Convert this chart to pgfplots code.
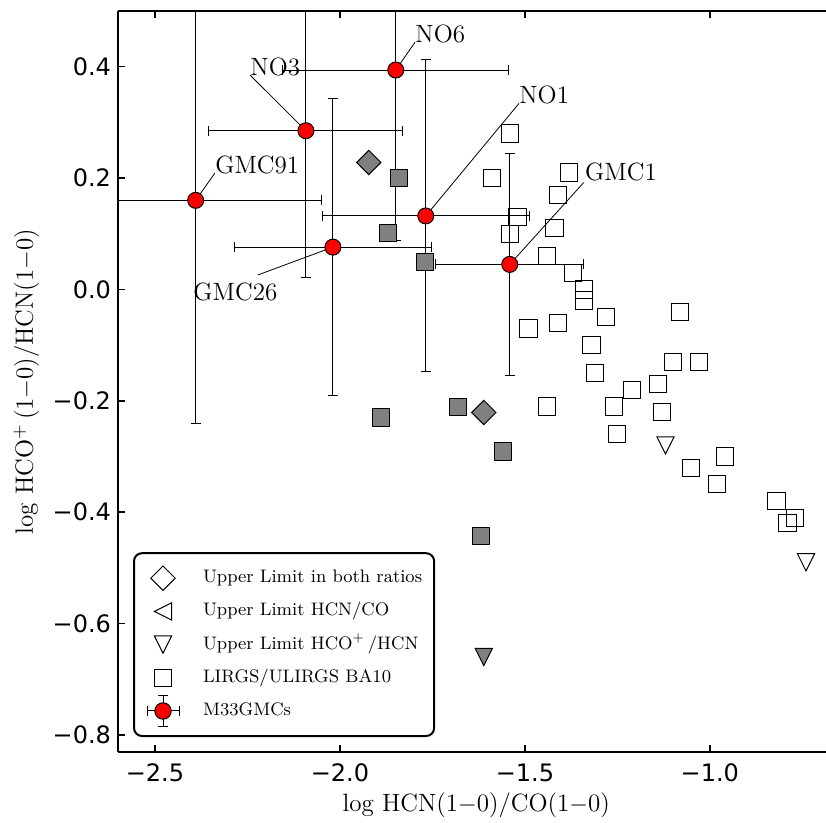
\documentclass[border=0pt]{standalone}
\usepackage{fontspec}
\usepackage{pgfplots}
\pgfplotsset{compat=1.18}
\newfontfamily\dejavu{DejaVu Sans}
\definecolor{mgray}{HTML}{808080}

% matplotlib style triangles (bbox centred)
\pgfdeclareplotmark{tridown}{%
  \pgfpathmoveto{\pgfqpoint{0pt}{-\pgfplotmarksize}}%
  \pgfpathlineto{\pgfqpoint{-\pgfplotmarksize}{\pgfplotmarksize}}%
  \pgfpathlineto{\pgfqpoint{\pgfplotmarksize}{\pgfplotmarksize}}%
  \pgfpathclose\pgfusepathqfillstroke}
\pgfdeclareplotmark{trileft}{%
  \pgfpathmoveto{\pgfqpoint{-\pgfplotmarksize}{0pt}}%
  \pgfpathlineto{\pgfqpoint{\pgfplotmarksize}{\pgfplotmarksize}}%
  \pgfpathlineto{\pgfqpoint{\pgfplotmarksize}{-\pgfplotmarksize}}%
  \pgfpathclose\pgfusepathqfillstroke}

\begin{document}
\begin{tikzpicture}
\begin{axis}[
    scale only axis,
    width=354pt, height=370.5pt,
    xmin=-2.6, xmax=-0.686,
    ymin=-0.8305, ymax=0.5,
    axis x line*=box, axis y line*=left,
    axis line style={-, line width=1pt},
    tick align=inside,
    major tick length=3.5pt,
    tick style={line width=0.8pt, black},
    xtick={-2.5,-2,-1.5,-1},
    xticklabels={−2.5,−2.0,−1.5,−1.0},
    ytick={-0.8,-0.6,-0.4,-0.2,0,0.2,0.4},
    yticklabels={−0.8,−0.6,−0.4,−0.2,0.0,0.2,0.4},
    tick label style={font=\dejavu\fontsize{12}{14}\selectfont},
    xticklabel style={yshift=-2.5pt},
    xlabel={$\log$ HCN(1$-$0)/CO(1$-$0)},
    ylabel={$\log$ HCO$^+$\,(1$-$0)/HCN(1$-$0)},
    every axis x label/.style={at={(rel axis cs:0.506,0)}, anchor=base, yshift=-30pt,
        font=\fontsize{12.5}{15}\selectfont},
    every axis y label/.style={at={(rel axis cs:0,0.5)}, xshift=-42.5pt, rotate=90, anchor=base,
        font=\fontsize{12.5}{15}\selectfont},
    legend cell align=left,
    legend style={at={(0.0212,0.0202)}, anchor=south west,
        draw=black, line width=1pt, rounded corners=4pt,
        font=\fontsize{9.05}{11}\selectfont,
        inner xsep=6pt, inner ysep=8.5pt, row sep=8.6pt,
        nodes={inner sep=0pt, text height=6pt, text depth=1.5pt},
        /tikz/every odd column/.append style={column sep=11.5pt}},
]

% legend entries
\addlegendimage{legend image code/.code={\path[draw=none, fill=none, use as bounding box] (0pt,-4pt) rectangle (17pt,4pt);
  \draw[sharp corners, line width=0.5pt, black, fill=white, mark=square*, mark size=4.3pt, mark options={rotate=45}] plot coordinates {(8.5pt,0pt)};}}
\addlegendentry{Upper Limit in both ratios}
\addlegendimage{legend image code/.code={\path[draw=none, fill=none, use as bounding box] (0pt,-4pt) rectangle (17pt,4pt);
  \draw[sharp corners, line width=0.5pt, black, fill=white, mark=trileft, mark size=4.3pt] plot coordinates {(8.5pt,0pt)};}}
\addlegendentry{Upper Limit HCN/CO}
\addlegendimage{legend image code/.code={\path[draw=none, fill=none, use as bounding box] (0pt,-4pt) rectangle (17pt,4pt);
  \draw[sharp corners, line width=0.5pt, black, fill=white, mark=tridown, mark size=4.3pt] plot coordinates {(8.5pt,0pt)};}}
\addlegendentry{Upper Limit HCO$^+$\,/HCN}
\addlegendimage{legend image code/.code={\path[draw=none, fill=none, use as bounding box] (0pt,-4pt) rectangle (17pt,4pt);
  \draw[sharp corners, line width=0.5pt, black, fill=white, mark=square*, mark size=4.3pt] plot coordinates {(8.5pt,0pt)};}}
\addlegendentry{LIRGS/ULIRGS BA10}
\addlegendimage{legend image code/.code={\path[draw=none, fill=none, use as bounding box] (0pt,-4pt) rectangle (17pt,4pt);
  \draw[sharp corners, line width=0.5pt, black]
    (0.5pt,0pt) -- (16.5pt,0pt) (0.5pt,-2.5pt) -- (0.5pt,2.5pt) (16.5pt,-2.5pt) -- (16.5pt,2.5pt)
    (8.5pt,-7.75pt) -- (8.5pt,7.75pt) (6pt,-7.75pt) -- (11pt,-7.75pt) (6pt,7.75pt) -- (11pt,7.75pt);
  \draw[line width=0.5pt, black, fill=red] (8.5pt,0pt) circle (4.1pt);}}
\addlegendentry{M33GMCs}

% detections in M33 (filled gray)
\addplot[forget plot, only marks, mark=square*, mark size=4.3pt,
    mark options={fill=mgray, draw=black, line width=0.5pt}] coordinates {
    (-1.841,0.200) (-1.870,0.101) (-1.770,0.049) (-1.889,-0.230)
    (-1.681,-0.211) (-1.559,-0.291) (-1.619,-0.442)
};
\addplot[forget plot, only marks, mark=square*, mark size=4.3pt,
    mark options={rotate=45, fill=mgray, draw=black, line width=0.5pt}] coordinates {
    (-1.922,0.228) (-1.611,-0.221)
};
\addplot[forget plot, only marks, mark=tridown, mark size=4.3pt,
    mark options={fill=mgray, draw=black, line width=0.5pt}] coordinates {
    (-1.611,-0.660)
};

% LIRGs / ULIRGs BA10
\addplot[forget plot, only marks, mark=square, mark size=4.3pt,
    mark options={draw=black, line width=0.5pt}] coordinates {
    (-1.54,0.28) (-1.59,0.20) (-1.38,0.21) (-1.41,0.17) (-1.52,0.13)
    (-1.42,0.11) (-1.54,0.10) (-1.44,0.06) (-1.37,0.03) (-1.34,0.00)
    (-1.34,-0.02) (-1.08,-0.04) (-1.49,-0.07) (-1.41,-0.06) (-1.28,-0.05)
    (-1.32,-0.10) (-1.31,-0.15) (-1.10,-0.13) (-1.03,-0.13) (-1.21,-0.18)
    (-1.14,-0.17) (-1.44,-0.21) (-1.26,-0.21) (-1.13,-0.22) (-1.25,-0.26)
    (-0.96,-0.30) (-1.05,-0.32) (-0.98,-0.35) (-0.82,-0.38) (-0.77,-0.41)
    (-0.79,-0.42)
};
\addplot[forget plot, only marks, mark=tridown, mark size=4.3pt,
    mark options={fill=white, draw=black, line width=0.5pt}] coordinates {
    (-1.12,-0.28) (-0.74,-0.49)
};

% M33 GMCs with error bars
\addplot[forget plot, only marks, mark=*, mark size=4pt,
    mark options={fill=red, draw=black, line width=0.5pt},
    error bars/.cd, x dir=both, x explicit, y dir=both, y explicit,
    error mark=-,
    error bar style={black, line width=0.5pt},
    error mark options={rotate=90, black, line width=0.5pt, mark size=2.5pt}] coordinates {
    (-2.390,0.160) +- (0.340,0.400)
    (-2.092,0.285) +- (0.262,0.263)
    (-1.849,0.394) +- (0.306,0.307)
    (-1.768,0.132) +- (0.280,0.280)
    (-1.541,0.045) +- (0.200,0.200)
    (-2.019,0.076) +- (0.267,0.267)
};

% labels
\begin{scope}[font=\fontsize{12.5}{15}\selectfont, line width=0.4pt]
\draw (axis cs:-1.849,0.394) -- (axis cs:-1.797,0.444);
\node[anchor=base west, inner sep=0pt] at (axis cs:-1.797,0.444) {NO6};
\draw (axis cs:-2.092,0.285) -- (axis cs:-2.243,0.385);
\node[anchor=base west, inner sep=0pt] at (axis cs:-2.243,0.385) {NO3};
\draw (axis cs:-2.390,0.160) -- (axis cs:-2.338,0.209);
\node[anchor=base west, inner sep=0pt] at (axis cs:-2.338,0.209) {GMC91};
\draw (axis cs:-2.019,0.076) -- (axis cs:-2.222,0.026);
\node[anchor=base west, inner sep=0pt] at (axis cs:-2.397,-0.019) {GMC26};
\draw (axis cs:-1.768,0.132) -- (axis cs:-1.516,0.334);
\node[anchor=base west, inner sep=0pt] at (axis cs:-1.516,0.334) {NO1};
\draw (axis cs:-1.541,0.045) -- (axis cs:-1.341,0.192);
\node[anchor=base west, inner sep=0pt] at (axis cs:-1.338,0.196) {GMC1};
\end{scope}
\end{axis}
\pgfresetboundingbox
\path[use as bounding box] ([xshift=-59pt,yshift=-35.5pt]current axis.south west)
    rectangle ([yshift=5.5pt]current axis.north east);
\end{tikzpicture}
\end{document}
